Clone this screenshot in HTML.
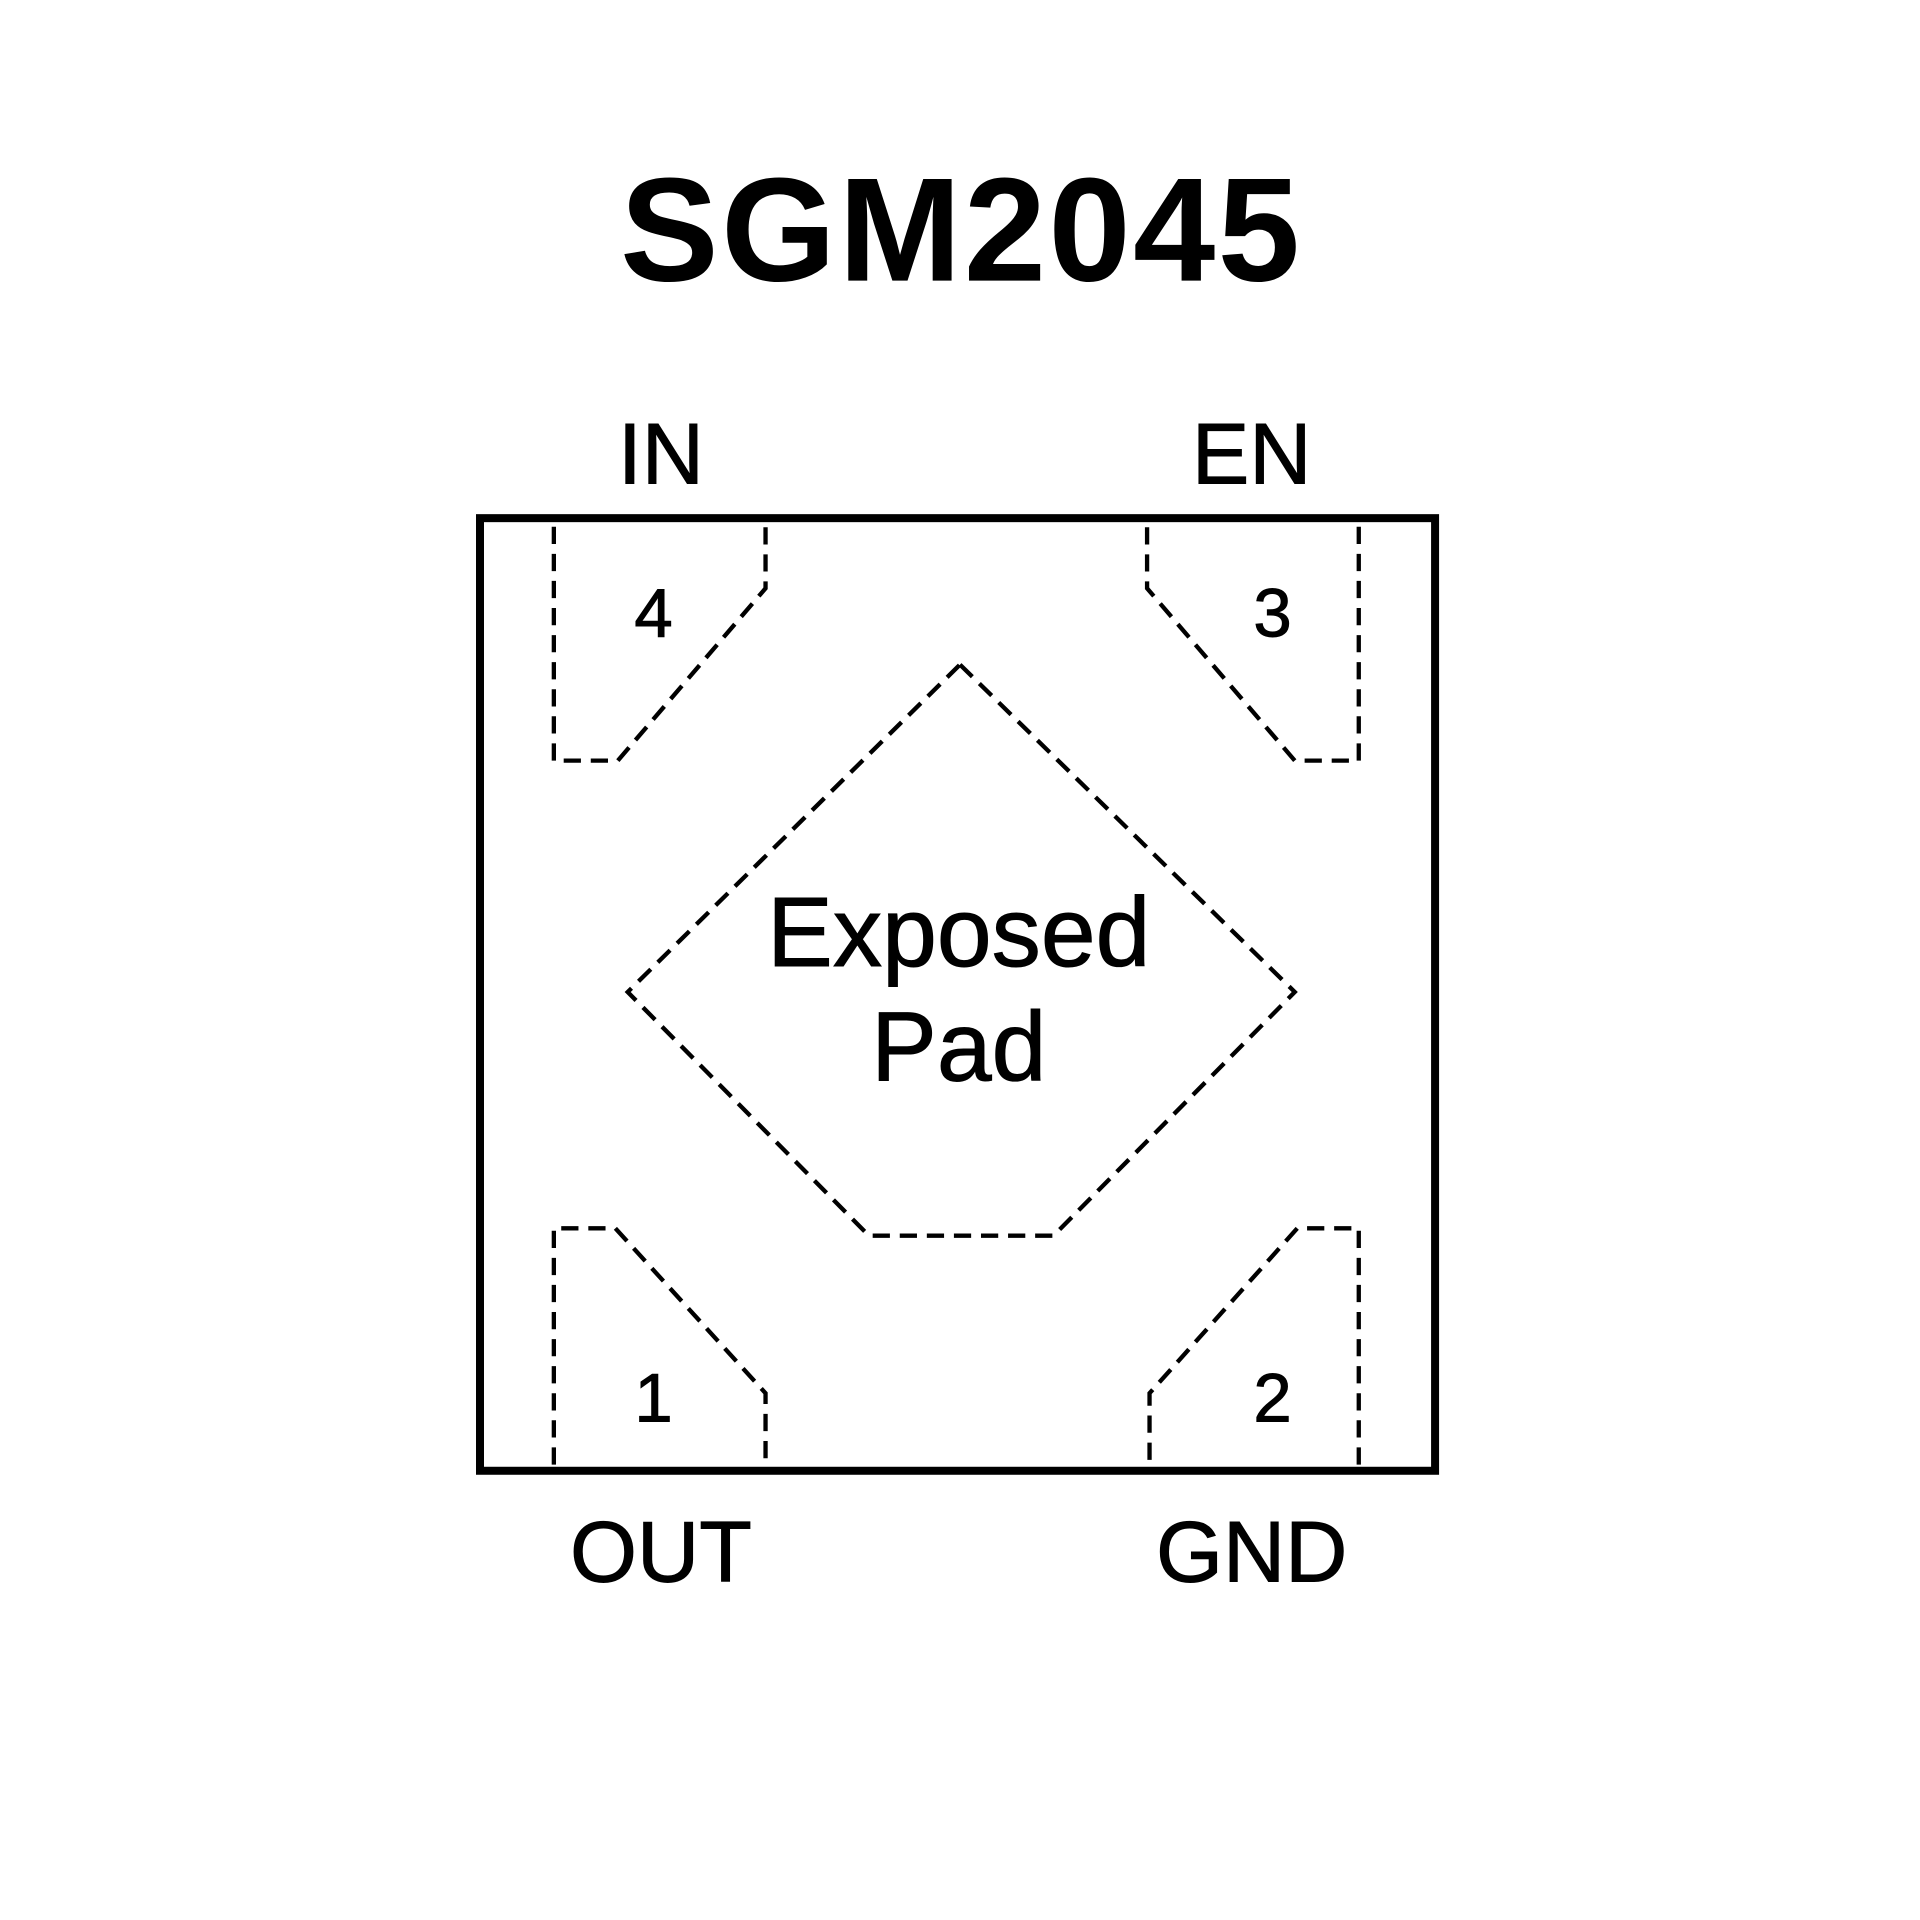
<!DOCTYPE html>
<html><head><meta charset="utf-8"><style>html,body{margin:0;padding:0;background:#fff}svg{display:block}</style></head>
<body>
<svg width="1920" height="1920" viewBox="0 0 1560 1560" xmlns="http://www.w3.org/2000/svg">
<rect width="1560" height="1560" fill="#fff"/>
<text x="781" y="228" text-anchor="middle" font-family="Liberation Sans, sans-serif" font-weight="bold" font-size="120" letter-spacing="2" fill="#000">SGM2045</text>
<rect x="390" y="421" width="776" height="774" fill="none" stroke="#000" stroke-width="6.5"/>
<g fill="none" stroke="#000" stroke-width="3.5" stroke-dasharray="14 8">
<polyline points="450,428 450,618 502,618 622,478 622,428"/>
<polyline points="1104,428 1104,618 1052,618 932,478 932,428"/>
<polyline points="450,1190 450,998 500,998 622,1132 622,1190"/>
<polyline points="1104,1190 1104,998 1054,998 934,1132 934,1190"/>
<polygon points="780,540 1052,806 856,1004 706,1004 510,806"/>
</g>
<g font-family="Liberation Sans, sans-serif" fill="#000" text-anchor="middle" stroke="#000" stroke-width="0.8">
<text x="537" y="393" font-size="70">IN</text>
<text x="1017" y="393" font-size="70">EN</text>
<text x="537" y="1285" font-size="70">OUT</text>
<text x="1017" y="1285" font-size="70">GND</text>
<text x="531" y="517" font-size="56">4</text>
<text x="1034" y="517" font-size="56">3</text>
<text x="531" y="1155" font-size="56">1</text>
<text x="1034" y="1155" font-size="56">2</text>
<text x="779" y="785" font-size="80">Exposed</text>
<text x="779" y="878" font-size="80">Pad</text>
</g>
</svg>
</body></html>
